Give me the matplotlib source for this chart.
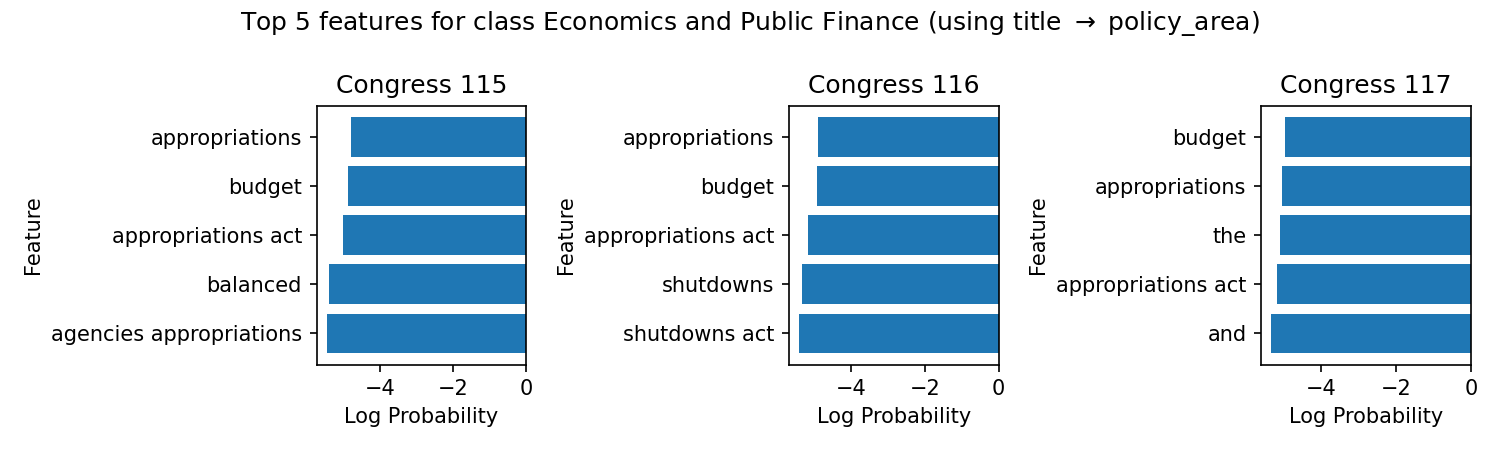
import matplotlib
matplotlib.use("Agg")
import matplotlib.pyplot as plt

congresses = ["Congress 115", "Congress 116", "Congress 117"]

features_115 = ["appropriations", "budget", "appropriations act", "balanced", "agencies appropriations"]
logprob_115 = [-4.79, -4.87, -5.01, -5.37, -5.45]

features_116 = ["appropriations", "budget", "appropriations act", "shutdowns", "shutdowns act"]
logprob_116 = [-4.89, -4.92, -5.16, -5.33, -5.41]

features_117 = ["budget", "appropriations", "the", "appropriations act", "and"]
logprob_117 = [-4.96, -5.04, -5.10, -5.18, -5.34]

panels = [
    (congresses[0], features_115, logprob_115),
    (congresses[1], features_116, logprob_116),
    (congresses[2], features_117, logprob_117),
]

fig, axes = plt.subplots(1, 3, figsize=(10, 3), dpi=150)
for ax, (name, feats, vals) in zip(axes, panels):
    ax.barh(feats, vals, color="#1f77b4")
    ax.invert_yaxis()
    ax.set_title(name)
    ax.set_xlabel("Log Probability")
    ax.set_ylabel("Feature")

fig.suptitle(r"Top 5 features for class Economics and Public Finance (using title $\rightarrow$ policy_area)")
fig.tight_layout()
fig.savefig("out.png")
